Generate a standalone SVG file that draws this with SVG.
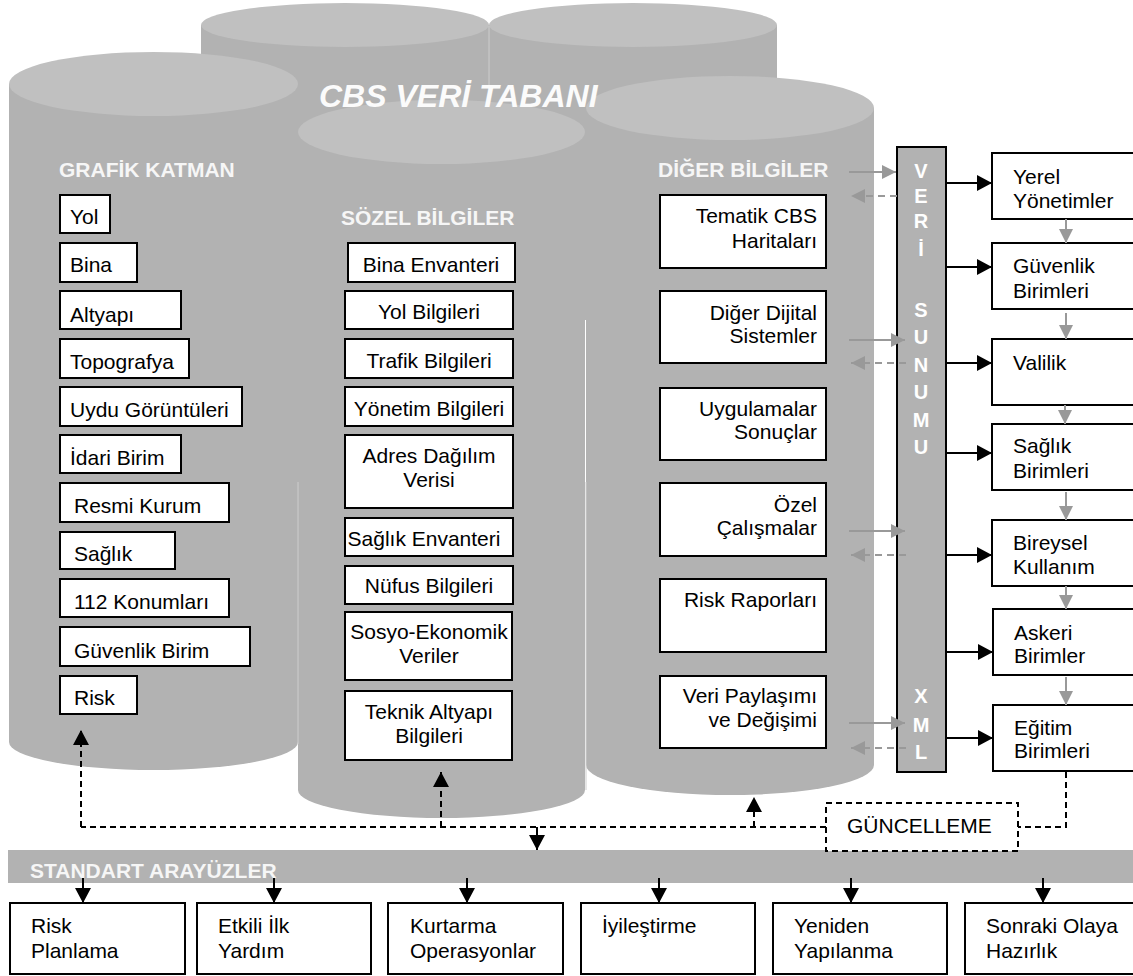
<svg xmlns="http://www.w3.org/2000/svg" width="1133" height="976" viewBox="0 0 1133 976">
<style>
.body{fill:#b2b2b2}
.top{fill:#c0c0c0}
.edge{stroke:#cdcdcd;stroke-width:1;fill:none}
.box{fill:#fff;stroke:#000;stroke-width:2}
.t{font-family:"Liberation Sans",Arial,sans-serif;font-size:21px;fill:#000}
.h{font-family:"Liberation Sans",Arial,sans-serif;font-size:21px;font-weight:bold;fill:#f6f6f6}
.v{font-family:"Liberation Sans",Arial,sans-serif;font-size:20px;font-weight:bold;fill:#fff;text-anchor:middle}
.mid{text-anchor:middle}
.end{text-anchor:end}
.blk{stroke:#000;stroke-width:2;fill:none}
.gry{stroke:#999;stroke-width:2;fill:none}
.dsh{stroke-dasharray:6 4}
.gdsh{stroke-dasharray:7 5}
</style>
<defs>
<marker id="ab" markerUnits="userSpaceOnUse" markerWidth="16" markerHeight="16" viewBox="0 0 16 16" refX="15" refY="8" orient="auto"><path d="M0,0 L15,8 L0,16 Z" fill="#000"/></marker>
<marker id="ag" markerUnits="userSpaceOnUse" markerWidth="15" markerHeight="14" viewBox="0 0 15 14" refX="14" refY="7" orient="auto"><path d="M0,0 L14,7 L0,14 Z" fill="#999"/></marker>
</defs>

<g id="database">
<path class="body" d="M201,25 L201,320 L489,320 L489,25 Z"/>
<ellipse class="top" cx="345" cy="25" rx="144" ry="22"/>
<path class="body" d="M489,25 L489,320 L777,320 L777,25 Z"/>
<ellipse class="top" cx="633" cy="25" rx="144" ry="22"/>
<line class="edge" x1="489" y1="26" x2="489" y2="86"/>
<path class="body" d="M9,84 L9,742 A144.5,28 0 0 0 298,742 L298,84 Z"/>
<ellipse class="top" cx="153.5" cy="84" rx="144.5" ry="32"/>
<path class="body" d="M586,108 L586,765 A144,30 0 0 0 874,765 L874,108 Z"/>
<ellipse class="top" cx="730" cy="108" rx="144" ry="32"/>
<path class="body" d="M298,132 L298,790 A143.5,28 0 0 0 585,790 L585,132 Z"/>
<ellipse class="top" cx="441.5" cy="132" rx="143.5" ry="32"/>
<line class="edge" x1="298" y1="482" x2="298" y2="744"/>
<line class="edge" x1="586" y1="482" x2="586" y2="790"/>
<text x="319" y="107" font-family="Liberation Sans, Arial, sans-serif" font-size="32" font-weight="bold" font-style="italic" fill="#fbfbfb">CBS VERİ TABANI</text>
<text class="h" x="59" y="177">GRAFİK KATMAN</text>
<text class="h" x="341" y="225">SÖZEL BİLGİLER</text>
<text class="h" x="658" y="177">DİĞER BİLGİLER</text>
</g>

<g id="grafik">
<g id="g-yol"><rect class="box" x="60" y="195" width="50" height="38"/><text class="t" x="70" y="224">Yol</text></g>
<g id="g-bina"><rect class="box" x="60" y="243" width="77" height="39"/><text class="t" x="70" y="272">Bina</text></g>
<g id="g-altyapi"><rect class="box" x="60" y="291" width="121" height="38"/><text class="t" x="70" y="322">Altyapı</text></g>
<g id="g-topo"><rect class="box" x="60" y="339" width="129" height="39"/><text class="t" x="70" y="369">Topografya</text></g>
<g id="g-uydu"><rect class="box" x="60" y="387" width="182" height="39"/><text class="t" x="70" y="417">Uydu Görüntüleri</text></g>
<g id="g-idari"><rect class="box" x="60" y="435" width="121" height="38"/><text class="t" x="70" y="465">İdari Birim</text></g>
<g id="g-resmi"><rect class="box" x="60" y="483" width="169" height="39"/><text class="t" x="74" y="513">Resmi Kurum</text></g>
<g id="g-saglik"><rect class="box" x="60" y="532" width="115" height="37"/><text class="t" x="74" y="561">Sağlık</text></g>
<g id="g-112"><rect class="box" x="60" y="579" width="169" height="38"/><text class="t" x="74" y="609">112 Konumları</text></g>
<g id="g-guvenlik"><rect class="box" x="60" y="627" width="190" height="39"/><text class="t" x="74" y="658">Güvenlik Birim</text></g>
<g id="g-risk"><rect class="box" x="60" y="676" width="77" height="38"/><text class="t" x="74" y="705">Risk</text></g>
</g>

<g id="sozel">
<g id="s-bina"><rect class="box" x="348" y="243" width="167" height="39"/><text class="t mid" x="431" y="272">Bina Envanteri</text></g>
<g id="s-yol"><rect class="box" x="345" y="291" width="168" height="38"/><text class="t mid" x="429" y="319">Yol Bilgileri</text></g>
<g id="s-trafik"><rect class="box" x="345" y="339" width="168" height="39"/><text class="t mid" x="429" y="368">Trafik Bilgileri</text></g>
<g id="s-yonetim"><rect class="box" x="345" y="387" width="168" height="39"/><text class="t mid" x="429" y="416">Yönetim Bilgileri</text></g>
<g id="s-adres"><rect class="box" x="345" y="435" width="168" height="73"/><text class="t mid" x="429" y="463">Adres Dağılım</text><text class="t mid" x="429" y="487">Verisi</text></g>
<g id="s-saglik"><rect class="box" x="345" y="518" width="168" height="38"/><text class="t mid" x="424" y="546">Sağlık Envanteri</text></g>
<g id="s-nufus"><rect class="box" x="345" y="566" width="168" height="38"/><text class="t mid" x="429" y="593">Nüfus Bilgileri</text></g>
<g id="s-sosyo"><rect class="box" x="345" y="612" width="167" height="68"/><text class="t mid" x="429" y="639">Sosyo-Ekonomik</text><text class="t mid" x="429" y="663">Veriler</text></g>
<g id="s-teknik"><rect class="box" x="345" y="691" width="167" height="69"/><text class="t mid" x="429" y="719">Teknik Altyapı</text><text class="t mid" x="429" y="743">Bilgileri</text></g>
</g>

<g id="diger">
<g id="d-tematik"><rect class="box" x="660" y="195" width="166" height="73"/><text class="t end" x="817" y="223">Tematik CBS</text><text class="t end" x="817" y="248">Haritaları</text></g>
<g id="d-dijital"><rect class="box" x="660" y="291" width="166" height="72"/><text class="t end" x="817" y="320">Diğer Dijital</text><text class="t end" x="817" y="343">Sistemler</text></g>
<g id="d-uygulama"><rect class="box" x="660" y="388" width="166" height="72"/><text class="t end" x="817" y="416">Uygulamalar</text><text class="t end" x="817" y="439">Sonuçlar</text></g>
<g id="d-ozel"><rect class="box" x="660" y="483" width="166" height="73"/><text class="t end" x="817" y="512">Özel</text><text class="t end" x="817" y="535">Çalışmalar</text></g>
<g id="d-risk"><rect class="box" x="660" y="579" width="166" height="73"/><text class="t end" x="817" y="607">Risk Raporları</text></g>
<g id="d-veri"><rect class="box" x="660" y="676" width="166" height="72"/><text class="t end" x="817" y="703">Veri Paylaşımı</text><text class="t end" x="817" y="727">ve Değişimi</text></g>
</g>

<g id="veri-sunumu">
<rect x="897" y="147" width="49" height="625" fill="#b2b2b2" stroke="#000" stroke-width="2"/>
<text class="v" x="921" y="178">V</text>
<text class="v" x="921" y="203">E</text>
<text class="v" x="921" y="228">R</text>
<text class="v" x="921" y="256">İ</text>
<text class="v" x="921" y="317">S</text>
<text class="v" x="921" y="344">U</text>
<text class="v" x="921" y="372">N</text>
<text class="v" x="921" y="399">U</text>
<text class="v" x="921" y="427">M</text>
<text class="v" x="921" y="454">U</text>
<text class="v" x="921" y="703">X</text>
<text class="v" x="921" y="732">M</text>
<text class="v" x="921" y="759">L</text>
</g>

<g id="kullanicilar">
<g id="k-yerel"><rect class="box" x="992" y="153" width="150" height="66"/><text class="t" x="1013" y="184">Yerel</text><text class="t" x="1013" y="208">Yönetimler</text></g>
<g id="k-guvenlik"><rect class="box" x="992" y="243" width="150" height="66"/><text class="t" x="1013" y="273">Güvenlik</text><text class="t" x="1013" y="298">Birimleri</text></g>
<g id="k-valilik"><rect class="box" x="992" y="339" width="150" height="66"/><text class="t" x="1013" y="370">Valilik</text></g>
<g id="k-saglik"><rect class="box" x="992" y="424" width="150" height="66"/><text class="t" x="1013" y="453">Sağlık</text><text class="t" x="1013" y="478">Birimleri</text></g>
<g id="k-bireysel"><rect class="box" x="992" y="520" width="150" height="66"/><text class="t" x="1013" y="550">Bireysel</text><text class="t" x="1013" y="574">Kullanım</text></g>
<g id="k-askeri"><rect class="box" x="993" y="609" width="150" height="66"/><text class="t" x="1014" y="640">Askeri</text><text class="t" x="1014" y="663">Birimler</text></g>
<g id="k-egitim"><rect class="box" x="993" y="705" width="150" height="66"/><text class="t" x="1014" y="735">Eğitim</text><text class="t" x="1014" y="758">Birimleri</text></g>
</g>

<g id="standart">
<rect x="8" y="850" width="1130" height="33" fill="#b2b2b2"/>
<text class="h" x="30" y="878">STANDART ARAYÜZLER</text>
</g>

<g id="guncelleme">
<rect x="826" y="803" width="192" height="48" fill="#fff" stroke="#000" stroke-width="2" stroke-dasharray="6 4"/>
<text class="t" x="847" y="833">GÜNCELLEME</text>
</g>

<g id="asamalar">
<g id="a-risk"><rect class="box" x="10" y="903" width="175" height="71"/><text class="t" x="31" y="933">Risk</text><text class="t" x="31" y="958">Planlama</text></g>
<g id="a-ilkyardim"><rect class="box" x="197" y="903" width="174" height="71"/><text class="t" x="218" y="933">Etkili İlk</text><text class="t" x="218" y="958">Yardım</text></g>
<g id="a-kurtarma"><rect class="box" x="388" y="903" width="175" height="71"/><text class="t" x="410" y="933">Kurtarma</text><text class="t" x="410" y="958">Operasyonlar</text></g>
<g id="a-iyilestirme"><rect class="box" x="581" y="903" width="174" height="71"/><text class="t" x="602" y="933">İyileştirme</text></g>
<g id="a-yeniden"><rect class="box" x="773" y="903" width="174" height="71"/><text class="t" x="794" y="933">Yeniden</text><text class="t" x="794" y="958">Yapılanma</text></g>
<g id="a-sonraki"><rect class="box" x="965" y="903" width="175" height="71"/><text class="t" x="986" y="933">Sonraki Olaya</text><text class="t" x="986" y="958">Hazırlık</text></g>
</g>

<g id="connectors">
<!-- gray in/out arrows between DİĞER column and VERİ SUNUMU -->
<line class="gry" x1="849" y1="172" x2="896" y2="172" marker-end="url(#ag)"/>
<line class="gry gdsh" x1="897" y1="196" x2="851" y2="196" marker-end="url(#ag)"/>
<line class="gry" x1="849" y1="340" x2="905" y2="340" marker-end="url(#ag)"/>
<line class="gry gdsh" x1="906" y1="363" x2="851" y2="363" marker-end="url(#ag)"/>
<line class="gry" x1="849" y1="531" x2="905" y2="531" marker-end="url(#ag)"/>
<line class="gry gdsh" x1="906" y1="555" x2="851" y2="555" marker-end="url(#ag)"/>
<line class="gry" x1="849" y1="723" x2="905" y2="723" marker-end="url(#ag)"/>
<line class="gry gdsh" x1="906" y1="748" x2="851" y2="748" marker-end="url(#ag)"/>
<!-- black arrows to users -->
<line class="blk" x1="946" y1="183" x2="992" y2="183" marker-end="url(#ab)"/>
<line class="blk" x1="946" y1="267" x2="992" y2="267" marker-end="url(#ab)"/>
<line class="blk" x1="946" y1="363" x2="992" y2="363" marker-end="url(#ab)"/>
<line class="blk" x1="946" y1="453" x2="992" y2="453" marker-end="url(#ab)"/>
<line class="blk" x1="946" y1="555" x2="992" y2="555" marker-end="url(#ab)"/>
<line class="blk" x1="946" y1="652" x2="993" y2="652" marker-end="url(#ab)"/>
<line class="blk" x1="946" y1="738" x2="993" y2="738" marker-end="url(#ab)"/>
<!-- gray chain between users -->
<line class="gry" x1="1066" y1="219" x2="1066" y2="243" marker-end="url(#ag)"/>
<line class="gry" x1="1066" y1="313" x2="1066" y2="339" marker-end="url(#ag)"/>
<line class="gry" x1="1065" y1="405" x2="1065" y2="424" marker-end="url(#ag)"/>
<line class="gry" x1="1066" y1="492" x2="1066" y2="520" marker-end="url(#ag)"/>
<line class="gry" x1="1066" y1="586" x2="1066" y2="609" marker-end="url(#ag)"/>
<line class="gry" x1="1066" y1="677" x2="1066" y2="705" marker-end="url(#ag)"/>
<!-- update loop -->
<polyline class="blk dsh" points="1066,772 1066,827 1018,827"/>
<line class="blk dsh" x1="826" y1="827" x2="81" y2="827"/>
<line class="blk dsh" x1="81" y1="827" x2="81" y2="730" marker-end="url(#ab)"/>
<line class="blk dsh" x1="441" y1="827" x2="441" y2="772" marker-end="url(#ab)"/>
<line class="blk dsh" x1="754" y1="827" x2="754" y2="797" marker-end="url(#ab)"/>
<line class="blk" x1="537" y1="827" x2="537" y2="850" marker-end="url(#ab)"/>
<!-- standard interfaces to phases -->
<line class="blk" x1="83" y1="878" x2="83" y2="903" marker-end="url(#ab)"/>
<line class="blk" x1="274" y1="878" x2="274" y2="903" marker-end="url(#ab)"/>
<line class="blk" x1="467" y1="878" x2="467" y2="903" marker-end="url(#ab)"/>
<line class="blk" x1="659" y1="878" x2="659" y2="903" marker-end="url(#ab)"/>
<line class="blk" x1="851" y1="878" x2="851" y2="903" marker-end="url(#ab)"/>
<line class="blk" x1="1043" y1="878" x2="1043" y2="903" marker-end="url(#ab)"/>
</g>
</svg>
